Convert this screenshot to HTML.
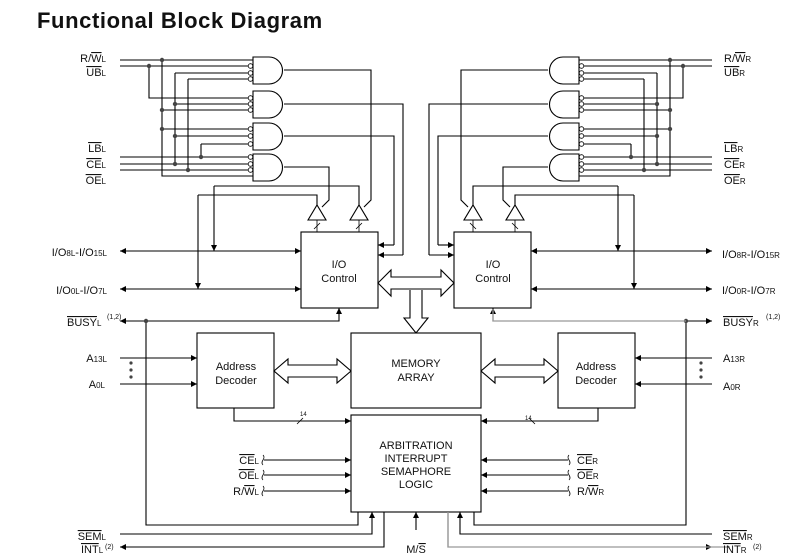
<!DOCTYPE html>
<html><head><meta charset="utf-8"><style>
body{margin:0;background:#fff;}
svg{display:block;font-family:"Liberation Sans",Arial,sans-serif;}
text{font-size:11px;fill:#111;}
.s{font-size:8px;}
</style></head><body>
<svg width="792" height="557" viewBox="0 0 792 557" xmlns="http://www.w3.org/2000/svg">
<defs>
<marker id="a" viewBox="0 0 10 10" refX="10" refY="5" markerWidth="8" markerHeight="6" orient="auto" markerUnits="userSpaceOnUse"><path d="M0,0L10,5L0,10z" fill="#000"/></marker>
<g id="half" fill="none" stroke="#000" stroke-width="1.1">
 <path d="M253,57h16a13.5,13.5 0 0 1 0,27h-16z"/>
 <path d="M253,91h16a13.5,13.5 0 0 1 0,27h-16z"/>
 <path d="M253,123h16a13.5,13.5 0 0 1 0,27h-16z"/>
 <path d="M253,154h16a13.5,13.5 0 0 1 0,27h-16z"/>
 <g stroke-width="0.8">
 <circle cx="250.5" cy="66" r="2.3"/><circle cx="250.5" cy="73" r="2.3"/><circle cx="250.5" cy="79" r="2.3"/>
 <circle cx="250.5" cy="98" r="2.3"/><circle cx="250.5" cy="104" r="2.3"/><circle cx="250.5" cy="110" r="2.3"/>
 <circle cx="250.5" cy="129" r="2.3"/><circle cx="250.5" cy="136" r="2.3"/><circle cx="250.5" cy="144" r="2.3"/>
 <circle cx="250.5" cy="157" r="2.3"/><circle cx="250.5" cy="164" r="2.3"/><circle cx="250.5" cy="170" r="2.3"/>
 </g>
 <path d="M120,60H253M120,66H248M149,66V98H248M162,60V176H253M175,73H248M175,73V164M188,79H248M188,79V170M175,104H248M162,110H248M162,129H248M175,136H248M201,144H248M201,144V157M120,157H248M120,164H248M120,170H248"/>
 <path d="M284,70H371V200L364,207M284,104H403V255M284,136H394V245M284,167H329V200L322,207"/>
 <path d="M308,220L317,205L326,220z"/>
 <path d="M350,220L359,205L368,220z"/>
 <path d="M317,220V232M359,220V232M314,229L320,223M356,229L362,223" stroke-width="0.8"/>
 <path d="M214,186H359V205M198,195H317V205"/>
 <path d="M214,186V251" marker-end="url(#a)"/>
 <path d="M198,195V289" marker-end="url(#a)"/>
 <rect x="301" y="232" width="77" height="76"/>
 <path d="M403,255H378" marker-end="url(#a)"/>
 <path d="M394,245H378" marker-end="url(#a)"/>
 <path d="M200,251H301" marker-end="url(#a)"/>
 <path d="M200,251H120" marker-end="url(#a)"/>
 <path d="M200,289H301" marker-end="url(#a)"/>
 <path d="M200,289H120" marker-end="url(#a)"/>
 <path d="M146,321H339V308" marker-end="url(#a)"/>
 <path d="M146,321H120" marker-end="url(#a)"/>
 <path d="M146,321V525H358V512"/>
 <rect x="197" y="333" width="77" height="75"/>
 <path d="M120,358H197" marker-end="url(#a)"/>
 <path d="M120,384H197" marker-end="url(#a)"/>
 <path d="M274,371L288,359V365H337V359L351,371L337,383V377H288V383Z"/>
 <path d="M234,408V421H351" marker-end="url(#a)"/>
 <path d="M297,424L303,418" stroke-width="0.8"/>
 <path d="M264,460H351" marker-end="url(#a)"/>
 <path d="M264,475H351" marker-end="url(#a)"/>
 <path d="M264,491H351" marker-end="url(#a)"/>
 <path d="M263,455q2,2 0,5q-2,3 0,5M263,470q2,2 0,5q-2,3 0,5M263,486q2,2 0,5q-2,3 0,5" stroke-width="0.8"/>
 <path d="M120,534H372V512" marker-end="url(#a)"/>
 <path d="M384,512V547H120" marker-end="url(#a)"/>
</g>
</defs>
<text x="37" y="28" style="font-size:22px;font-weight:bold;letter-spacing:0.6px">Functional Block Diagram</text>
<use href="#half"/>
<g transform="translate(832,0) scale(-1,1)"><use href="#half"/></g>
<g fill="#444">
<circle cx="162" cy="60" r="2.2"/><circle cx="149" cy="66" r="2.2"/><circle cx="175" cy="104" r="2.2"/><circle cx="162" cy="110" r="2.2"/><circle cx="162" cy="129" r="2.2"/><circle cx="175" cy="136" r="2.2"/><circle cx="201" cy="157" r="2.2"/><circle cx="175" cy="164" r="2.2"/><circle cx="188" cy="170" r="2.2"/><circle cx="146" cy="321" r="2.2"/>
<circle cx="670" cy="60" r="2.2"/><circle cx="683" cy="66" r="2.2"/><circle cx="657" cy="104" r="2.2"/><circle cx="670" cy="110" r="2.2"/><circle cx="670" cy="129" r="2.2"/><circle cx="657" cy="136" r="2.2"/><circle cx="631" cy="157" r="2.2"/><circle cx="657" cy="164" r="2.2"/><circle cx="644" cy="170" r="2.2"/><circle cx="686" cy="321" r="2.2"/>
<circle cx="131" cy="363" r="1.6"/><circle cx="131" cy="370" r="1.6"/><circle cx="131" cy="377" r="1.6"/>
<circle cx="701" cy="363" r="1.6"/><circle cx="701" cy="370" r="1.6"/><circle cx="701" cy="377" r="1.6"/>
</g>
<g fill="none" stroke="#000" stroke-width="1.1">
<path d="M378,283L391,270V277H441V270L454,283L441,296V289H391V296Z" fill="#fff"/>
<path d="M410,290V318H404L416,333L428,318H422V290" fill="#fff"/>
<rect x="351" y="333" width="130" height="75" fill="#fff"/>
<rect x="351" y="415" width="130" height="97" fill="#fff"/>
<path d="M416,530V512" marker-end="url(#a)"/>
</g>
<g fill="none" stroke="#999" stroke-width="1.3">
<path d="M493,309V321H686"/>
<path d="M448,512V547H730"/>
</g>
<text x="416" y="367" text-anchor="middle">MEMORY</text>
<text x="416" y="381" text-anchor="middle">ARRAY</text>
<text x="416" y="449" text-anchor="middle">ARBITRATION</text>
<text x="416" y="462" text-anchor="middle">INTERRUPT</text>
<text x="416" y="475" text-anchor="middle">SEMAPHORE</text>
<text x="416" y="488" text-anchor="middle">LOGIC</text>
<text x="339" y="268" text-anchor="middle">I/O</text>
<text x="339" y="282" text-anchor="middle">Control</text>
<text x="493" y="268" text-anchor="middle">I/O</text>
<text x="493" y="282" text-anchor="middle">Control</text>
<text x="236" y="370" text-anchor="middle">Address</text>
<text x="236" y="384" text-anchor="middle">Decoder</text>
<text x="596" y="370" text-anchor="middle">Address</text>
<text x="596" y="384" text-anchor="middle">Decoder</text>
<text x="300" y="416" class="s" style="font-size:6px">14</text>
<text x="525" y="420" class="s" style="font-size:6px">14</text>
<text x="416" y="553" text-anchor="middle">M/<tspan text-decoration="overline">S</tspan></text>
<g text-anchor="end">
<text x="106" y="62">R/<tspan text-decoration="overline">W</tspan><tspan class="s">L</tspan></text>
<text x="106" y="76"><tspan text-decoration="overline">UB</tspan><tspan class="s">L</tspan></text>
<text x="106" y="152"><tspan text-decoration="overline">LB</tspan><tspan class="s">L</tspan></text>
<text x="106" y="168"><tspan text-decoration="overline">CE</tspan><tspan class="s">L</tspan></text>
<text x="106" y="184"><tspan text-decoration="overline">OE</tspan><tspan class="s">L</tspan></text>
<text x="107" y="256">I/O<tspan class="s">8L</tspan>-I/O<tspan class="s">15L</tspan></text>
<text x="107" y="294">I/O<tspan class="s">0L</tspan>-I/O<tspan class="s">7L</tspan></text>
<text x="107" y="362">A<tspan class="s">13L</tspan></text>
<text x="105" y="388">A<tspan class="s">0L</tspan></text>
<text x="259" y="464"><tspan text-decoration="overline">CE</tspan><tspan class="s">L</tspan></text>
<text x="259" y="479"><tspan text-decoration="overline">OE</tspan><tspan class="s">L</tspan></text>
<text x="259" y="495">R/<tspan text-decoration="overline">W</tspan><tspan class="s">L</tspan></text>
<text x="106" y="540"><tspan text-decoration="overline">SEM</tspan><tspan class="s">L</tspan></text>
</g>
<text x="67" y="326"><tspan text-decoration="overline">BUSY</tspan><tspan class="s">L</tspan></text>
<text x="107" y="319" class="s" style="font-size:7px">(1,2)</text>
<text x="81" y="553"><tspan text-decoration="overline">INT</tspan><tspan class="s">L</tspan></text>
<text x="105" y="549" class="s" style="font-size:7px">(2)</text>
<text x="724" y="62">R/<tspan text-decoration="overline">W</tspan><tspan class="s">R</tspan></text>
<text x="724" y="76"><tspan text-decoration="overline">UB</tspan><tspan class="s">R</tspan></text>
<text x="724" y="152"><tspan text-decoration="overline">LB</tspan><tspan class="s">R</tspan></text>
<text x="724" y="168"><tspan text-decoration="overline">CE</tspan><tspan class="s">R</tspan></text>
<text x="724" y="184"><tspan text-decoration="overline">OE</tspan><tspan class="s">R</tspan></text>
<text x="722" y="258">I/O<tspan class="s">8R</tspan>-I/O<tspan class="s">15R</tspan></text>
<text x="722" y="294">I/O<tspan class="s">0R</tspan>-I/O<tspan class="s">7R</tspan></text>
<text x="723" y="326"><tspan text-decoration="overline">BUSY</tspan><tspan class="s">R</tspan></text>
<text x="766" y="319" class="s" style="font-size:7px">(1,2)</text>
<text x="723" y="362">A<tspan class="s">13R</tspan></text>
<text x="723" y="390">A<tspan class="s">0R</tspan></text>
<text x="577" y="464"><tspan text-decoration="overline">CE</tspan><tspan class="s">R</tspan></text>
<text x="577" y="479"><tspan text-decoration="overline">OE</tspan><tspan class="s">R</tspan></text>
<text x="577" y="495">R/<tspan text-decoration="overline">W</tspan><tspan class="s">R</tspan></text>
<text x="723" y="540"><tspan text-decoration="overline">SEM</tspan><tspan class="s">R</tspan></text>
<text x="723" y="553"><tspan text-decoration="overline">INT</tspan><tspan class="s">R</tspan></text>
<text x="753" y="549" class="s" style="font-size:7px">(2)</text>
</svg>
</body></html>
